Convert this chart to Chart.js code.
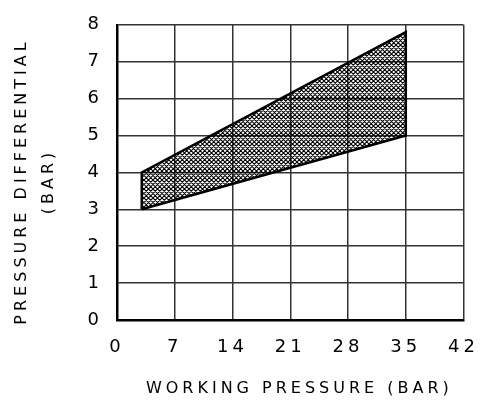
<!DOCTYPE html>
<html><head><meta charset="utf-8">
<script src="https://cdn.jsdelivr.net/npm/chart.js@4"></script>
<style>html,body{margin:0;padding:0;background:#fff}#wrap{width:496px;height:405px;position:relative}</style>
</head><body><div id="wrap"><canvas id="c"></canvas></div>
<script>
// Data
const xEnds = [3, 35];          // working pressure (bar) at band ends
const upperY = [4, 7.8];        // upper boundary (bar)
const lowerY = [3, 5];          // lower boundary (bar)
const xTickValues = [0, 7, 14, 21, 28, 35, 42];
const yTickValues = [0, 1, 2, 3, 4, 5, 6, 7, 8];
const xTitle = '  WORKING PRESSURE (BAR)';
const yTitle = ['PRESSURE DIFFERENTIAL  ', '(BAR)  '];

function hatch() {
  const s = 9, h = 4.5;
  const c = document.createElement('canvas');
  c.width = s; c.height = s;
  const g = c.getContext('2d');
  g.strokeStyle = '#000'; g.lineWidth = 1.1;
  g.beginPath();
  for (let k = -2; k <= 2; k++) {
    const o = k * h;
    g.moveTo(o - 2, -2); g.lineTo(o + s + 2, s + 2);
    g.moveTo(o + s + 2, -2); g.lineTo(o - 2, s + 2);
  }
  g.stroke();
  return g.createPattern(c, 'repeat');
}

const upperPts = xEnds.map((x, i) => ({x, y: upperY[i]}));
const lowerPts = xEnds.map((x, i) => ({x, y: lowerY[i]}));
const outline = [lowerPts[0], upperPts[0], upperPts[1], lowerPts[1], lowerPts[0]];

const spacing = {
  id: 'spacing',
  beforeUpdate(chart) { chart.ctx.letterSpacing = '4px'; },
  beforeLayout(chart) { chart.ctx.letterSpacing = '4px'; },
  beforeDraw(chart) { chart.ctx.letterSpacing = '4px'; }
};

const fam = '"DejaVu Sans", sans-serif';
new Chart(document.getElementById('c'), {
  type: 'scatter',
  data: {
    datasets: [
      {data: upperPts, showLine: true, borderWidth: 0, pointRadius: 0, fill: '+1', backgroundColor: hatch(), borderColor: 'rgba(0,0,0,0)'},
      {data: lowerPts, showLine: true, borderWidth: 0, pointRadius: 0, fill: false, borderColor: 'rgba(0,0,0,0)'},
      {data: outline, showLine: true, borderWidth: 2.5, pointRadius: 0, fill: false, borderColor: '#000', borderJoinStyle: 'miter'}
    ]
  },
  options: {
    responsive: true, maintainAspectRatio: false, animation: false,
    layout: {padding: {left: 0, top: 16, right: 19, bottom: 0}},
    plugins: {legend: {display: false}, tooltip: {enabled: false}},
    scales: {
      x: {
        type: 'linear', min: 0, max: 42,
        afterBuildTicks(s) { s.ticks = xTickValues.map(v => ({value: v})); },
        afterFit(s) { s.height = 85; },
        grid: {color: '#333', lineWidth: 1.5, drawTicks: false},
        border: {color: '#000', width: 2.5},
        ticks: {color: '#000', padding: 17, maxRotation: 0, font: {family: fam, size: 18}},
        title: {display: true, text: xTitle, color: '#000', padding: {top: 0, bottom: 7}, font: {family: fam, size: 16, lineHeight: 1.2}}
      },
      y: {
        type: 'linear', min: 0, max: 8,
        afterBuildTicks(s) { s.ticks = yTickValues.map(v => ({value: v})); },
        afterFit(s) { s.width = 117; },
        grid: {color: '#333', lineWidth: 1.5, drawTicks: false},
        border: {color: '#000', width: 2.5},
        ticks: {color: '#000', padding: 14, font: {family: fam, size: 18}},
        title: {display: true, text: yTitle, color: '#000', padding: {top: 9, bottom: 0}, font: {family: fam, size: 16, lineHeight: 1.65}}
      }
    }
  },
  plugins: [spacing]
});
</script></body></html>
